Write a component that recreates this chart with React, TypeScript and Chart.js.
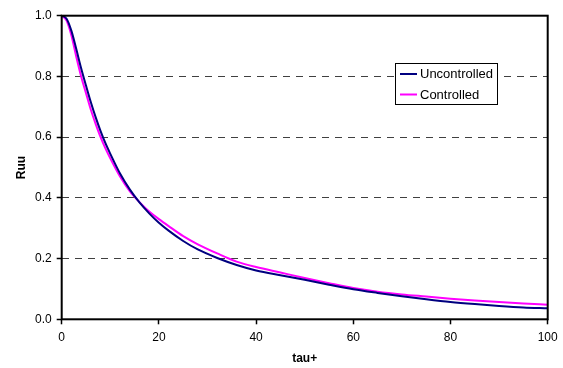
import React, { useEffect, useRef } from "react";
import { Chart, registerables } from "chart.js";

Chart.register(...registerables);

const tauValues = [0, 1, 2, 3, 4, 5, 6, 7, 8, 9, 10, 12, 14, 16, 18, 20, 22, 25, 28, 32, 36, 40, 45, 50, 55, 60, 65, 70, 75, 80, 85, 90, 95, 100];
const uncontrolled = [1.0, 0.99, 0.95, 0.89, 0.827, 0.77, 0.715, 0.665, 0.62, 0.58, 0.545, 0.48, 0.428, 0.385, 0.349, 0.318, 0.292, 0.258, 0.23, 0.202, 0.179, 0.161, 0.145, 0.13, 0.114, 0.099, 0.087, 0.076, 0.066, 0.057, 0.05, 0.044, 0.039, 0.036];
const controlled = [1.0, 0.984, 0.935, 0.865, 0.8, 0.745, 0.69, 0.643, 0.6, 0.563, 0.53, 0.47, 0.422, 0.386, 0.355, 0.33, 0.307, 0.274, 0.247, 0.217, 0.19, 0.172, 0.154, 0.136, 0.119, 0.103, 0.091, 0.082, 0.075, 0.068, 0.062, 0.057, 0.052, 0.048];
const seriesLabels = ["Uncontrolled", "Controlled"];
const seriesColors = ["#000080", "#FF00FF"];
const xTickValues = [0, 20, 40, 60, 80, 100];
const yTickValues = [0, 0.2, 0.4, 0.6, 0.8, 1.0];
const xTitle = "tau+";
const yTitle = "Ruu";

const FONT = "'Liberation Sans', Arial, sans-serif";

const frameAndLegend = {
  id: "frameAndLegend",
  afterDatasetsDraw(chart: any) {
    const { ctx, chartArea: a } = chart;
    ctx.save();
    ctx.strokeStyle = "#000";
    ctx.lineWidth = 2;
    ctx.strokeRect(a.left, a.top, a.right - a.left, a.bottom - a.top);
    const bx = Math.round(a.left + 333.3) + 0.5;
    const by = Math.round(a.top + 47) + 0.5;
    const bw = 102;
    const bh = 41;
    ctx.fillStyle = "#fff";
    ctx.fillRect(bx, by, bw, bh);
    ctx.lineWidth = 1;
    ctx.strokeStyle = "#000";
    ctx.strokeRect(bx, by, bw, bh);
    ctx.font = `13px ${FONT}`;
    ctx.textBaseline = "middle";
    ctx.textAlign = "left";
    chart.data.datasets.forEach((ds: any, i: number) => {
      const y = by + 10.5 + i * 20.5;
      ctx.strokeStyle = ds.borderColor;
      ctx.lineWidth = 2;
      ctx.beginPath();
      ctx.moveTo(bx + 4.5, y);
      ctx.lineTo(bx + 21.5, y);
      ctx.stroke();
      ctx.fillStyle = "#000";
      ctx.fillText(ds.label, bx + 24.5, y + 0.5);
    });
    ctx.restore();
  },
};

export default function App() {
  const ref = useRef<HTMLCanvasElement | null>(null);
  useEffect(() => {
    document.body.style.margin = "0";
    const canvas = ref.current!;
    const chart = new Chart(canvas, {
      type: "line",
      data: {
        datasets: [
          {
            label: seriesLabels[0],
            data: tauValues.map((t, i) => ({ x: t, y: uncontrolled[i] })),
            borderColor: seriesColors[0],
            backgroundColor: seriesColors[0],
            borderWidth: 2,
            pointRadius: 0,
            cubicInterpolationMode: "monotone",
            fill: false,
          },
          {
            label: seriesLabels[1],
            data: tauValues.map((t, i) => ({ x: t, y: controlled[i] })),
            borderColor: seriesColors[1],
            backgroundColor: seriesColors[1],
            borderWidth: 2,
            pointRadius: 0,
            cubicInterpolationMode: "monotone",
            fill: false,
          },
        ],
      },
      options: {
        animation: false,
        responsive: false,
        maintainAspectRatio: false,
        layout: { padding: { left: 0, top: 15.7, right: 15.3, bottom: 0 } },
        plugins: { legend: { display: false }, tooltip: { enabled: false } },
        scales: {
          x: {
            type: "linear",
            min: 0,
            max: 100,
            afterBuildTicks: (s: any) => {
              s.ticks = xTickValues.map((v) => ({ value: v }));
            },
            afterFit: (s: any) => {
              s.height = 48.7;
              s.paddingLeft = 0;
              s.paddingRight = 0;
            },
            ticks: {
              color: "#000",
              font: { family: FONT, size: 12 },
              padding: 6,
              maxRotation: 0,
              callback: (v: any) => String(v),
            },
            grid: {
              drawOnChartArea: false,
              drawTicks: true,
              tickLength: 5,
              tickColor: "#000",
              tickWidth: 1.5,
            },
            border: { display: false },
            title: {
              display: true,
              text: xTitle,
              color: "#000",
              font: { family: FONT, size: 12, weight: "bold" },
              padding: { top: 0, bottom: 2 },
            },
          },
          y: {
            type: "linear",
            min: 0,
            max: 1,
            afterBuildTicks: (s: any) => {
              s.ticks = yTickValues.map((v) => ({ value: v }));
            },
            afterFit: (s: any) => {
              s.width = 61.7;
              s.paddingTop = 0;
              s.paddingBottom = 0;
            },
            ticks: {
              color: "#000",
              font: { family: FONT, size: 12 },
              padding: 5,
              callback: (v: any) => Number(v).toFixed(1),
            },
            grid: {
              color: "#404040",
              lineWidth: 1,
              drawTicks: true,
              tickLength: 5,
              tickColor: "#000",
              tickWidth: 1.5,
              tickBorderDash: [],
            },
            border: { display: false, dash: [7, 6] },
            title: {
              display: true,
              text: yTitle,
              color: "#000",
              font: { family: FONT, size: 12, weight: "bold" },
              padding: { top: 14, bottom: 0 },
            },
          },
        },
      } as any,
      plugins: [frameAndLegend],
    });
    return () => chart.destroy();
  }, []);
  return (
    <div style={{ position: "absolute", left: 0, top: 0, width: 563, height: 368 }}>
      <canvas ref={ref} width={563} height={368} />
    </div>
  );
}
